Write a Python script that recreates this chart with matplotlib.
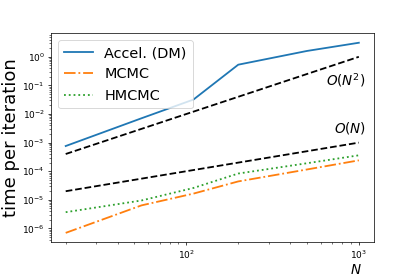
import matplotlib
matplotlib.use("Agg")
import matplotlib.pyplot as plt
import numpy as np

# data
n_vals = [20, 55, 110, 200, 500, 1000]
accel = [7.6e-4, 7.1e-3, 3.2e-2, 0.53, 1.6, 3.1]
mcmc = [7.0e-7, 6.4e-6, 1.65e-5, 4.4e-5, 1.15e-4, 2.4e-4]
hmcmc = [3.7e-6, 9.5e-6, 2.6e-5, 8.3e-5, 1.9e-4, 3.6e-4]
ref_n = [20, 1000]
ref_coef = 1e-6

DPI = 65
fig, ax = plt.subplots(figsize=(415 / DPI, 277 / DPI), dpi=DPI)
fig.subplots_adjust(left=0.123, right=0.9, top=0.88, bottom=0.125)

n_arr = np.array(ref_n, dtype=float)
ax.plot(n_vals, accel, '-', color='#1f77b4', lw=2, label='Accel. (DM)')
ax.plot(n_vals, mcmc, '-.', color='#ff7f0e', lw=2, label='MCMC')
ax.plot(n_vals, hmcmc, ':', color='#2ca02c', lw=2, label='HMCMC')
ax.plot(n_arr, ref_coef * n_arr**2, '--', color='black', lw=2)
ax.plot(n_arr, ref_coef * n_arr, '--', color='black', lw=2)

ax.set_xscale('log')
ax.set_yscale('log')

ax.text(1100, 0.15, r'$O(N^2)$', ha='right', va='center', fontsize=15)
ax.text(1100, 3.2e-3, r'$O(N)$', ha='right', va='center', fontsize=15)

ax.tick_params(axis='both', which='major', labelsize=10)
ax.set_ylabel('time per iteration', fontsize=20)
ax.yaxis.set_label_coords(-0.095, 0.5)
ax.set_xlabel('$N$', fontsize=15)
ax.xaxis.set_label_coords(0.945, -0.1)

ax.legend(loc='upper left', fontsize=16)

fig.savefig('out.png', dpi=DPI)
